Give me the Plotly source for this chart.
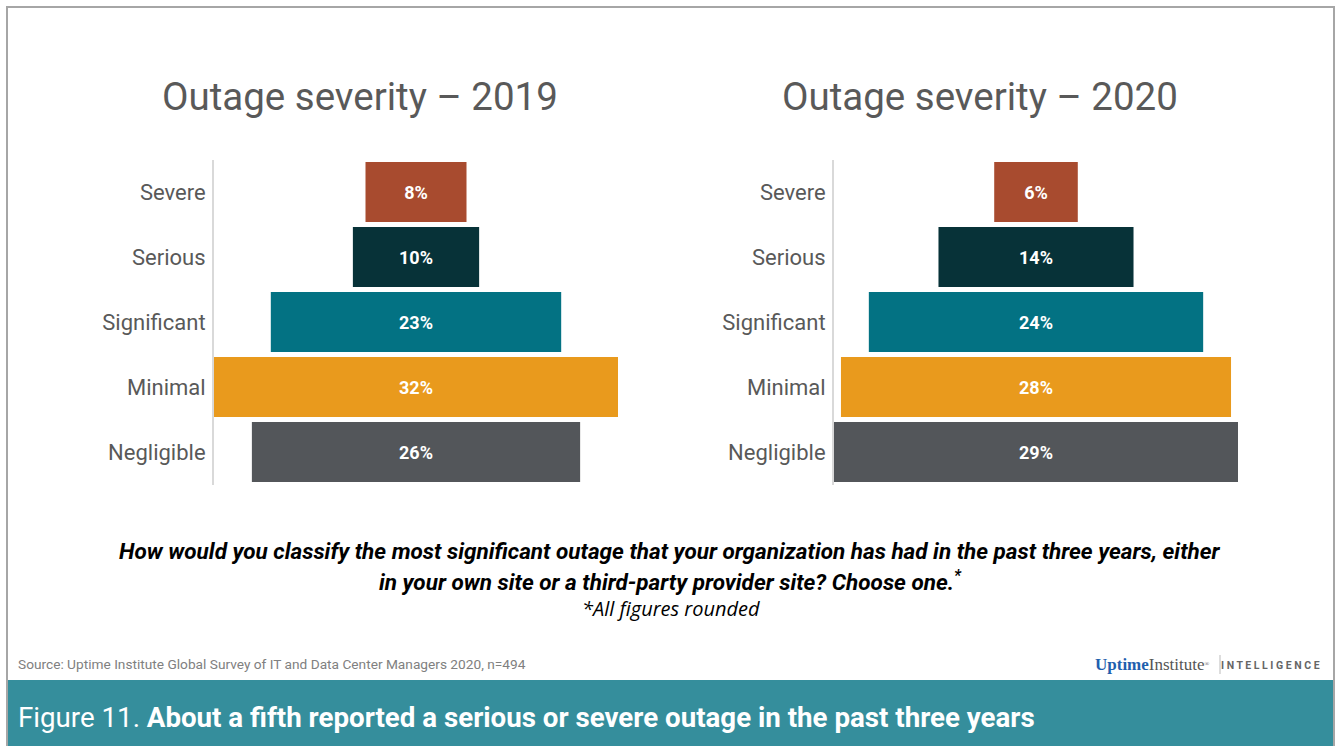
import plotly.graph_objects as go

categories = ["Severe", "Serious", "Significant", "Minimal", "Negligible"]
values_2019 = [8, 10, 23, 32, 26]
values_2020 = [6, 14, 24, 28, 29]
colors = ["#A84B2F", "#073238", "#037283", "#E99A1D", "#53565A"]
titles = ["Outage severity – 2019", "Outage severity – 2020"]

W, H = 1340, 746

def px_x(x):
    return x / W

def px_y(y):
    return 1 - y / H

fig = go.Figure()

for i, vals in enumerate([values_2019, values_2020]):
    fig.add_trace(go.Funnel(
        y=categories, x=vals,
        xaxis="x" if i == 0 else "x2",
        yaxis="y" if i == 0 else "y2",
        marker=dict(color=colors, line=dict(width=0)),
        text=[f"{v}%" for v in vals],
        textinfo="text",
        textposition="inside",
        insidetextanchor="middle",
        textfont=dict(family="Roboto", size=18, color="white", weight="bold"),
        connector=dict(visible=False),
        hoverinfo="y+x",
        showlegend=False,
    ))

ydom = [px_y(484.5), px_y(159.5)]
axis_common = dict(showgrid=False, zeroline=False, showticklabels=False, fixedrange=True)
yaxis_common = dict(
    autorange="reversed", showgrid=False, zeroline=False,
    showline=True, linecolor="#D9D9D9", linewidth=2,
    ticks="", ticklabelstandoff=2,
    tickfont=dict(family="Roboto", size=22, color="#595959"),
    domain=ydom,
)

fig.update_layout(
    width=W, height=H,
    margin=dict(l=0, r=0, t=0, b=0),
    paper_bgcolor="white", plot_bgcolor="white",
    funnelgap=1 - 60 / 65,
    xaxis=dict(domain=[px_x(214), px_x(618)], range=[-16, 16], anchor="y", **axis_common),
    yaxis=dict(anchor="x", **yaxis_common),
    xaxis2=dict(domain=[px_x(834), px_x(1238)], range=[-14.5, 14.5], anchor="y2", **axis_common),
    yaxis2=dict(anchor="x2", **yaxis_common),
)

# outer frame
fig.add_shape(type="rect", xref="paper", yref="paper",
              x0=px_x(7), x1=px_x(1334), y0=px_y(747), y1=px_y(7),
              line=dict(color="#A6A6A6", width=2), fillcolor="rgba(0,0,0,0)", layer="above")
# footer band
fig.add_shape(type="rect", xref="paper", yref="paper",
              x0=px_x(8), x1=px_x(1333), y0=0, y1=px_y(680),
              line=dict(width=0), fillcolor="#358E9C", layer="below")

for t, cx in zip(titles, [360, 980]):
    fig.add_annotation(text=t, x=px_x(cx), y=px_y(97), xref="paper", yref="paper",
                       showarrow=False, xanchor="center", yanchor="middle",
                       font=dict(family="Roboto", size=38.5, color="#595959"))

qfont = dict(family="Roboto", size=22.5, color="black", weight="bold", style="italic")
fig.add_annotation(text="How would you classify the most significant outage that your organization has had in the past three years, either",
                   x=px_x(670), y=px_y(551), xref="paper", yref="paper", showarrow=False,
                   xanchor="center", yanchor="middle", font=qfont)
fig.add_annotation(text="in your own site or a third-party provider site? Choose one.<sup>*</sup>",
                   x=px_x(670), y=px_y(580), xref="paper", yref="paper", showarrow=False,
                   xanchor="center", yanchor="middle", font=qfont)
fig.add_annotation(text="*All figures rounded",
                   x=px_x(671), y=px_y(608), xref="paper", yref="paper", showarrow=False,
                   xanchor="center", yanchor="middle",
                   font=dict(family="Open Sans", size=20, color="black", style="italic"))

fig.add_annotation(text="Source: Uptime Institute Global Survey of IT and Data Center Managers 2020, n=494",
                   x=px_x(16), y=px_y(664), xref="paper", yref="paper", showarrow=False,
                   xanchor="left", yanchor="middle",
                   font=dict(family="Roboto", size=13.7, color="#808080"))

fig.add_annotation(text="<b><span style='color:#1F5FAE'>Uptime</span></b>Institute<span style='font-size:9px'><sup>®</sup></span>",
                   x=px_x(1212), y=px_y(664), xref="paper", yref="paper", showarrow=False,
                   xanchor="right", yanchor="middle",
                   font=dict(family="Liberation Serif", size=17, color="#555555"))
fig.add_shape(type="line", xref="paper", yref="paper",
              x0=px_x(1220), x1=px_x(1220), y0=px_y(674), y1=px_y(655),
              line=dict(color="#BBBBBB", width=1))
fig.add_annotation(text="I N T E L L I G E N C E",
                   x=px_x(1322), y=px_y(665), xref="paper", yref="paper", showarrow=False,
                   xanchor="right", yanchor="middle",
                   font=dict(family="Roboto", size=10.5, color="#666666", weight="bold"))

fig.add_annotation(text="Figure 11. <b>About a fifth reported a serious or severe outage in the past three years</b>",
                   x=px_x(16), y=px_y(717), xref="paper", yref="paper", showarrow=False,
                   xanchor="left", yanchor="middle",
                   font=dict(family="Roboto", size=27.7, color="white"))

fig.write_html("out.html", config={"displayModeBar": False},
               post_script="document.body.style.margin='0';document.body.style.overflow='hidden';")
